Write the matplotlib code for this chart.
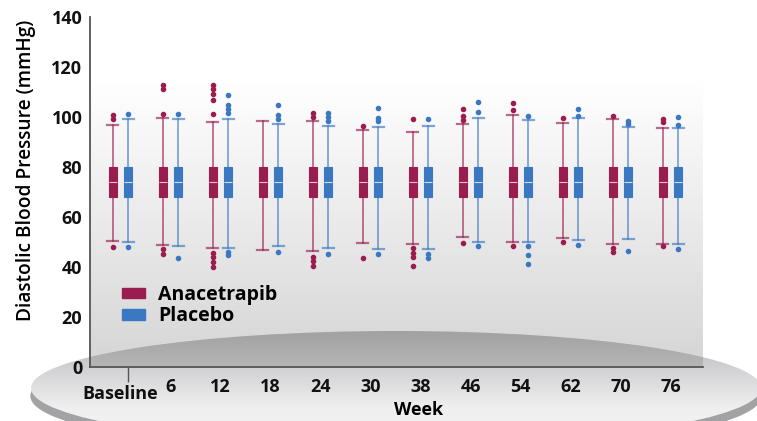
import matplotlib
matplotlib.use('Agg')
import matplotlib.pyplot as plt
import numpy as np
from matplotlib.patches import Ellipse, Patch
from matplotlib.colors import LinearSegmentedColormap
from matplotlib.transforms import ScaledTranslation

# Week labels
weeks = ['Baseline', '6', '12', '18', '24', '30', '38', '46', '54', '62', '70', '76']

# Anacetrapib box statistics (mmHg)
ana_q1 = [68, 68, 68, 68, 68, 68, 68, 68, 68, 68, 68, 68]
ana_med = [74, 74, 74, 74, 74, 74, 74, 74, 74, 74, 74, 74]
ana_q3 = [80, 80, 80, 80, 80, 80, 80, 80, 80, 80, 80, 80]
ana_hi = [96.7, 99.6, 98.0, 98.4, 98.4, 94.8, 94.0, 97.0, 100.8, 97.6, 99.0, 95.6]
ana_lo = [50.1, 48.6, 47.5, 46.7, 46.1, 49.5, 49.1, 51.7, 49.9, 51.3, 49.1, 49.0]
ana_out = [
    [100.7, 98.9, 48.0],
    [112.7, 111.0, 101.2, 47.1, 45.2],
    [112.7, 111.0, 109.2, 106.8, 101.2, 45.6, 43.8, 42.0, 39.8],
    [],
    [101.6, 99.7, 43.9, 42.1, 40.4],
    [96.3, 43.6],
    [99.0, 47.3, 45.6, 43.9, 40.3],
    [103.2, 100.4, 98.7, 49.6],
    [105.3, 102.7, 48.4],
    [99.3, 49.7],
    [100.1, 47.3, 45.7],
    [99.2, 97.7, 48.2],
]

# Placebo box statistics (mmHg)
pla_q1 = [68, 68, 68, 68, 68, 68, 68, 68, 68, 68, 68, 68]
pla_med = [74, 74, 74, 74, 74, 74, 74, 74, 74, 74, 74, 74]
pla_q3 = [80, 80, 80, 80, 80, 80, 80, 80, 80, 80, 80, 80]
pla_hi = [98.9, 99.2, 99.2, 97.0, 96.4, 96.0, 96.4, 99.3, 98.5, 99.3, 95.7, 95.3]
pla_lo = [49.7, 48.3, 47.5, 48.3, 47.5, 47.1, 47.2, 49.9, 49.9, 50.8, 51.2, 49.1]
pla_out = [
    [101.0, 48.0],
    [101.2, 43.6],
    [108.7, 104.8, 103.1, 101.3, 46.0, 44.5],
    [104.7, 100.8, 99.1, 46.0],
    [101.6, 99.9, 98.1, 45.2],
    [103.3, 99.6, 98.3, 45.2],
    [99.0, 45.1, 43.6],
    [105.9, 102.0, 48.4],
    [100.4, 48.4, 44.7, 41.2],
    [103.2, 100.4, 48.5],
    [98.4, 97.2, 46.4],
    [99.8, 96.7, 47.0],
]

red = '#9a1d50'
blue = '#3b78c2'
font = 'Open Sans'

fig = plt.figure(figsize=(7.57, 4.21), dpi=100)

# background plate, drawn in pixel coordinates
bg = fig.add_axes([0, 0, 1, 1], zorder=0)
shade = LinearSegmentedColormap.from_list('plate', ['#aeaeb0', '#d2d2d4', '#efeff0', '#f4f4f4'])
im = bg.imshow(np.linspace(0, 1, 256).reshape(-1, 1), cmap=shade,
               extent=(30, 762, 446, 330), aspect='auto', zorder=2)
bg.add_patch(Ellipse((396, 396), 730, 114, color='#a2a2a4', zorder=1))
plate = Ellipse((396, 388), 730, 114, facecolor='none', edgecolor='none', zorder=3)
bg.add_patch(plate)
im.set_clip_path(plate)
bg.set_xlim(0, 757)
bg.set_ylim(421, 0)
bg.axis('off')

ax = fig.add_axes([90 / 757, (421 - 366.7) / 421, 612.7 / 757, 350 / 421], zorder=1)
ax.patch.set_alpha(0)
x0, x1 = -0.61, 11.64

# semi-transparent back wall, darker toward the floor
v = np.linspace(140, 0, 300)
wall = np.zeros((300, 1, 4))
wall[..., :3] = 131 / 255
wall[:, 0, 3] = np.clip(0.34 * (1 - v / 115), 0, None)
ax.imshow(wall, extent=(x0, x1, 0, 140), aspect='auto', zorder=0)


def stats(q1, med, q3, lo, hi, out):
    return [dict(q1=a, med=b, q3=c, whislo=d, whishi=e, fliers=f)
            for a, b, c, d, e, f in zip(q1, med, q3, lo, hi, out)]


pos = np.arange(len(weeks))
off = 0.156
for data, p, col, medc in [
    (stats(ana_q1, ana_med, ana_q3, ana_lo, ana_hi, ana_out), pos - off, red, '#e6c3d1'),
    (stats(pla_q1, pla_med, pla_q3, pla_lo, pla_hi, pla_out), pos + off, blue, '#cfe0f3'),
]:
    ax.bxp(data, positions=p, widths=0.16, capwidths=0.22, patch_artist=True,
           boxprops=dict(facecolor=col, edgecolor=col, linewidth=0.8),
           whiskerprops=dict(color=col, alpha=0.65, linewidth=1.3),
           capprops=dict(color=col, alpha=0.65, linewidth=1.6),
           medianprops=dict(color=medc, linewidth=0.8),
           flierprops=dict(marker='o', markersize=3, markerfacecolor=col,
                           markeredgecolor=col, linestyle='none'),
           manage_ticks=False, zorder=3)

ax.set_xlim(x0, x1)
ax.set_ylim(0, 140)

for s in ['top', 'right']:
    ax.spines[s].set_visible(False)
for s in ['left', 'bottom']:
    ax.spines[s].set_color('#555555')
    ax.spines[s].set_linewidth(1.3)

ax.set_yticks(np.arange(0, 141, 20))
ax.set_xticks(pos)
ax.set_xticklabels(weeks)
ax.tick_params(axis='both', length=0, labelsize=13, colors='#111111')
ax.tick_params(axis='x', pad=8)
ax.tick_params(axis='y', pad=5.5)
ax.set_xticks([pos[0] + off], minor=True)
ax.tick_params(axis='x', which='minor', length=11, width=1, color='#555555')
for t in ax.get_xticklabels() + ax.get_yticklabels():
    t.set_fontfamily(font)
    t.set_fontweight('bold')

ax.set_ylabel('Diastolic Blood Pressure (mmHg)', fontsize=13.8, family=font,
              fontweight='semibold')
ax.yaxis.set_label_coords(-0.088, 0.562)
ax.set_xlabel('Week', fontsize=13, family=font, fontweight='bold')
ax.xaxis.set_label_coords(0.537, -0.099)

handles = [Patch(facecolor=red, edgecolor=red, label='Anacetrapib'),
           Patch(facecolor=blue, edgecolor=blue, label='Placebo')]
ax.legend(handles=handles, loc='upper left', bbox_to_anchor=(0.024, 0.284),
          frameon=False, handlelength=1.19, handleheight=0.46, handletextpad=0.67,
          labelspacing=0.08, borderpad=0.4,
          prop=dict(family=font, weight='bold', size=14))

# "Baseline" sits a little lower than the other week labels
lab0 = ax.get_xticklabels()[0]
lab0.set_transform(lab0.get_transform() + ScaledTranslation(0, -7 / 100, fig.dpi_scale_trans))

fig.savefig('out.png', dpi=100)
